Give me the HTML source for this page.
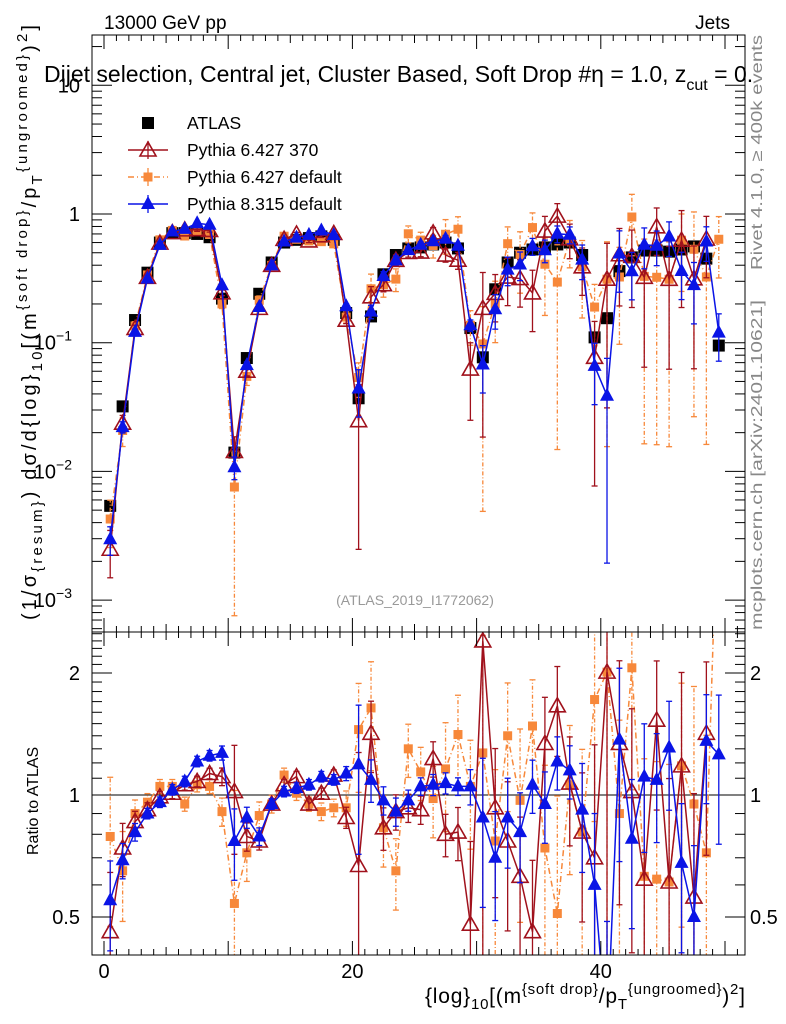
<!DOCTYPE html>
<html><head><meta charset="utf-8">
<style>
html,body{margin:0;padding:0;background:#fff;overflow:hidden;width:786px;height:1024px;}
svg{display:block;font-family:"Liberation Sans","DejaVu Sans",sans-serif;}
</style></head>
<body>
<svg id="chart" width="786" height="1024" viewBox="0 0 786 1024" xmlns="http://www.w3.org/2000/svg">
<defs>
<clipPath id="cm"><rect x="92" y="35" width="653" height="597"/></clipPath>
<clipPath id="cr"><rect x="92" y="632" width="653" height="323"/></clipPath>
</defs>
<rect x="0" y="0" width="786" height="1024" fill="#fff"/>
<g id="marks-main" clip-path="url(#cm)"></g>
<g id="marks-ratio" clip-path="url(#cr)"></g>
<g id="axes"></g>
<text x="104" y="29" font-size="19">13000 GeV pp</text>
<text x="730" y="29" font-size="19" text-anchor="end">Jets</text>
<text x="44" y="82" font-size="23">Dijet selection, Central jet, Cluster Based, Soft Drop #η = 1.0, z<tspan font-size="16" dy="8">cut</tspan><tspan dy="-8"> = 0.</tspan></text>
<text transform="translate(762,270) rotate(-90)" font-size="16" fill="#888" textLength="235" lengthAdjust="spacingAndGlyphs">Rivet 4.1.0, ≥ 400k events</text>
<text transform="translate(762,630) rotate(-90)" font-size="16" fill="#888" textLength="330" lengthAdjust="spacingAndGlyphs">mcplots.cern.ch [arXiv:2401.10621]</text>
<text x="415" y="605" font-size="14" fill="#999" text-anchor="middle">(ATLAS_2019_I1772062)</text>
<text transform="translate(36,620) rotate(-90)" font-size="20" textLength="595" lengthAdjust="spacing">(1/σ<tspan font-size="15" dy="6">{resum}</tspan><tspan dy="-6">) dσ/d{log}</tspan><tspan font-size="15" dy="6">10</tspan><tspan dy="-6">[(m</tspan><tspan font-size="15" dy="-9">{soft drop}</tspan><tspan dy="9">/p</tspan><tspan font-size="15" dy="6">T</tspan><tspan font-size="15" dy="-15">{ungroomed}</tspan><tspan dy="9">)</tspan><tspan font-size="15" dy="-9">2</tspan><tspan dy="9">]</tspan></text>
<text transform="translate(38,855) rotate(-90)" font-size="16">Ratio to ATLAS</text>
<text x="745" y="1003" font-size="21" text-anchor="end" textLength="320" lengthAdjust="spacing">{log}<tspan font-size="15" dy="6">10</tspan><tspan dy="-6">[(m</tspan><tspan font-size="15" dy="-9">{soft drop}</tspan><tspan dy="9">/p</tspan><tspan font-size="15" dy="6">T</tspan><tspan font-size="15" dy="-15">{ungroomed}</tspan><tspan dy="9">)</tspan><tspan font-size="15" dy="-9">2</tspan><tspan dy="9">]</tspan></text>
<g id="legend"></g>
</svg>
<script>
const binCenters = [0.5,1.5,2.5,3.5,4.5,5.5,6.5,7.5,8.5,9.5,10.5,11.5,12.5,13.5,14.5,15.5,16.5,17.5,18.5,19.5,20.5,21.5,22.5,23.5,24.5,25.5,26.5,27.5,28.5,29.5,30.5,31.5,32.5,33.5,34.5,35.5,36.5,37.5,38.5,39.5,40.5,41.5,42.5,43.5,44.5,45.5,46.5,47.5,48.5,49.5];
const atlasValues = [0.0054,0.032,0.15,0.35,0.6,0.71,0.71,0.70,0.66,0.22,0.014,0.076,0.24,0.42,0.6,0.63,0.65,0.67,0.63,0.17,0.037,0.16,0.34,0.48,0.54,0.55,0.58,0.6,0.54,0.13,0.077,0.26,0.42,0.5,0.53,0.55,0.58,0.6,0.48,0.11,0.155,0.36,0.46,0.52,0.52,0.51,0.53,0.56,0.45,0.095];
const ratioP6_370 = [0.46,0.74,0.86,0.92,0.99,1.01,1.06,1.08,1.13,1.11,1.02,0.79,0.77,0.95,1.06,1.11,0.95,1.01,1.12,0.88,0.67,1.42,0.83,0.91,0.93,0.92,1.23,0.80,0.81,0.48,2.4,0.93,0.77,0.63,0.46,1.34,1.66,1.07,0.81,0.70,2.01,1.34,1.02,0.62,1.53,0.61,1.18,0.56,1.42,null];
const ratioP6_def = [0.79,0.65,0.90,0.96,1.05,1.05,0.95,1.06,1.05,0.91,0.54,0.72,0.89,0.95,1.12,1.01,0.95,0.91,0.93,0.93,1.45,1.64,0.83,0.65,1.30,1.14,0.98,1.16,1.41,1.05,1.27,0.77,1.40,0.97,1.48,0.74,0.51,1.06,0.81,1.72,2.01,0.90,2.06,0.63,0.62,0.61,1.18,0.95,0.72,6.7];
const ratioP8 = [0.55,0.69,0.81,0.90,0.96,1.03,1.08,1.21,1.25,1.27,0.77,0.88,0.79,0.95,1.02,1.04,1.06,1.11,1.09,1.13,1.19,1.09,0.97,0.91,0.97,1.05,1.06,1.07,1.05,1.05,0.88,0.70,0.88,0.81,1.06,0.95,1.21,1.15,0.92,0.60,0.25,1.37,0.78,1.11,1.09,1.31,0.68,0.50,1.36,1.26];
const errP6_370 = [0.4,0.15,0.06,0.04,0.03,0.03,0.03,0.03,0.03,0.05,0.3,0.08,0.05,0.03,0.03,0.03,0.03,0.03,0.03,0.06,0.9,0.2,0.12,0.1,0.08,0.08,0.1,0.12,0.15,0.6,0.9,0.4,0.4,0.4,0.5,0.3,0.25,0.3,0.4,0.9,0.9,0.6,0.6,0.8,0.4,0.8,0.7,0.8,0.5,0];
const errP6_def = [0.4,0.25,0.08,0.05,0.04,0.04,0.04,0.04,0.04,0.08,0.9,0.15,0.08,0.05,0.04,0.04,0.04,0.05,0.05,0.1,0.3,0.3,0.2,0.2,0.15,0.15,0.2,0.3,0.25,0.3,0.95,0.5,0.35,0.5,0.3,0.6,0.95,0.4,0.6,0.5,0.95,0.7,0.5,0.95,0.95,0.95,0.6,0.95,0.95,0.5];
const errP8 = [0.25,0.1,0.05,0.03,0.03,0.03,0.03,0.03,0.03,0.04,0.2,0.06,0.05,0.03,0.03,0.03,0.03,0.03,0.03,0.04,0.4,0.12,0.08,0.08,0.06,0.05,0.06,0.06,0.05,0.1,0.4,0.3,0.25,0.25,0.15,0.2,0.15,0.15,0.3,0.5,0.95,0.5,0.4,0.35,0.3,0.3,0.4,0.5,0.3,0.4];
const xTickLabels = ["0","20","40"];
const xTickValues = [0,20,40];

const NS="http://www.w3.org/2000/svg";
const L=92,R=745,MT=35,MB=632,RB=955;
const X=v=>104+12.42*v;
const YM=v=>214-128.7*Math.log10(v);
const YR=r=>795-122*Math.log2(r);
function mk(tag,attrs,parent){const e=document.createElementNS(NS,tag);for(const k in attrs)e.setAttribute(k,attrs[k]);parent.appendChild(e);return e;}
const gm=document.getElementById('marks-main'),gr=document.getElementById('marks-ratio'),ga=document.getElementById('axes'),gl=document.getElementById('legend');

function marker(type,x,y,color,parent,name){
  let e;
  if(type==='sqBig'){e=mk('rect',{x:x-6,y:y-6,width:12,height:12,fill:'#000'},parent);}
  else if(type==='sqSmall'){e=mk('rect',{x:x-4.5,y:y-4.5,width:9,height:9,fill:color},parent);}
  else if(type==='triOpen'){e=mk('polygon',{points:`${x},${y-8} ${x-8},${y+6} ${x+8},${y+6}`,fill:'none',stroke:color,'stroke-width':1.6},parent);}
  else {e=mk('polygon',{points:`${x},${y-8} ${x-7},${y+5} ${x+7},${y+5}`,fill:color},parent);}
  
  
  return e;
}
function errbar(x,y1,y2,color,dash,parent){
  const g=mk('g',{stroke:color,'stroke-width':1.3},parent);
  
  
  mk('line',{x1:x,x2:x,y1:y1,y2:y2,'stroke-dasharray':dash||''},g);
  mk('line',{x1:x-3,x2:x+3,y1:y1,y2:y1},g);
  mk('line',{x1:x-3,x2:x+3,y1:y2,y2:y2},g);
}
function series(ratios,errs,color,dash,mtype,name){
  const pm=[],pr=[];
  const gM=mk('g',{},gm);
  const gR=mk('g',{},gr);
  ratios.forEach((r,i)=>{
    if(r==null)return;
    const v=atlasValues[i]*r,x=X(binCenters[i]),e=errs[i];
    const lo=Math.max(1e-5,1-e),hi=1+e;
    errbar(x,YM(v*lo),YM(v*hi),color,dash?'4,2,1,2':'',gM);
    errbar(x,YR(r*lo),YR(r*hi),color,dash?'4,2,1,2':'',gR);
    pm.push(x+','+YM(v));pr.push(x+','+YR(r));
  });
  const l1=mk('polyline',{points:pm.join(' '),fill:'none',stroke:color,'stroke-width':1.5,'stroke-dasharray':dash||''},gM);
  
  const l2=mk('polyline',{points:pr.join(' '),fill:'none',stroke:color,'stroke-width':1.5,'stroke-dasharray':dash||''},gR);
  
  ratios.forEach((r,i)=>{
    if(r==null)return;
    const v=atlasValues[i]*r,x=X(binCenters[i]);
    marker(mtype,x,YM(v),color,gM,name+'-point');
    marker(mtype,x,YR(r),color,gR,name+'-ratio-point');
  });
}
const ref=mk('line',{x1:L,x2:R,y1:YR(1),y2:YR(1),stroke:'#000','stroke-width':1},gr);

atlasValues.forEach((v,i)=>{marker('sqBig',X(binCenters[i]),YM(v),'#000',gm,'atlas-point');});
series(ratioP6_def,errP6_def,'#f7883a','6,3,1,3','sqSmall','pythia6-default');
series(ratioP6_370,errP6_370,'#a0111c','','triOpen','pythia6-370');
series(ratioP8,errP8,'#0a14e6','','triFill','pythia8-default');

[[MT,MB],[MB,RB]].forEach(([t,b],k)=>{
  const f=mk('rect',{x:L,y:t,width:R-L,height:b-t,fill:'none',stroke:'#000','stroke-width':1},ga);
  
  for(let v=0;v<=51;v++){
    const x=X(v),len=(v%10===0)?14:(v%5===0?8:6);
    if(x<L||x>R)continue;
    mk('line',{x1:x,x2:x,y1:b,y2:b-len,stroke:'#000'},ga);
    mk('line',{x1:x,x2:x,y1:t,y2:t+len,stroke:'#000'},ga);
  }
});
xTickValues.forEach((v,i)=>{
  const t=mk('text',{x:X(v),y:978,'font-size':20,'text-anchor':'middle'},ga);t.textContent=xTickLabels[i];
  
});
for(let d=-4;d<=1;d++){
  for(let m=1;m<10;m++){
    const v=m*Math.pow(10,d),y=YM(v);
    if(y<MT||y>MB)continue;
    const len=m===1?20:10;
    mk('line',{x1:L,x2:L+len,y1:y,y2:y,stroke:'#000'},ga);
    mk('line',{x1:R,x2:R-len,y1:y,y2:y,stroke:'#000'},ga);
  }
}
const mainLabels=[[10,'10',''],[1,'1',''],[0.1,'10','−1'],[0.01,'10','−2'],[0.001,'10','−3']];
mainLabels.forEach(([v,b,s])=>{
  const t=mk('text',{x:s?72:80,y:YM(v)+7,'font-size':20,'text-anchor':'end'},ga);
  
  t.textContent=b;
  if(s){const ts=mk('tspan',{'font-size':14,dy:-9},t);ts.textContent=s;}
});
[0.4,0.5,0.6,0.7,0.8,0.9,1,1.1,1.2,1.3,1.4,1.5,1.6,1.7,1.8,1.9,2,2.1,2.2,2.3,2.4,2.5].forEach(r=>{
  const y=YR(r);if(y<MB||y>RB)return;
  const len=(r===0.5||r===1||r===2)?20:10;
  mk('line',{x1:L,x2:L+len,y1:y,y2:y,stroke:'#000'},ga);
  mk('line',{x1:R,x2:R-len,y1:y,y2:y,stroke:'#000'},ga);
});
[[2,'2'],[1,'1'],[0.5,'0.5']].forEach(([r,s])=>{
  const t=mk('text',{x:80,y:YR(r)+7,'font-size':20,'text-anchor':'end'},ga);t.textContent=s;
  
  const t2=mk('text',{x:750,y:YR(r)+7,'font-size':20},ga);t2.textContent=s;
  
});
const leg=[['ATLAS','sqBig','#000',''],['Pythia 6.427 370','triOpen','#a0111c',''],['Pythia 6.427 default','sqSmall','#f7883a','6,3,1,3'],['Pythia 8.315 default','triFill','#0a14e6','']];
leg.forEach(([lab,mt,c,d],i)=>{
  const y=123+27*i;
  const g=mk('g',{},gl);
  if(i>0){mk('line',{x1:128,x2:168,y1:y,y2:y,stroke:c,'stroke-width':1.5,'stroke-dasharray':d},g);
          mk('line',{x1:148,x2:148,y1:y-9,y2:y+9,stroke:c,'stroke-width':1.3,'stroke-dasharray':d},g);}
  marker(mt,148,y,c,g,'legend-marker');
  const t=mk('text',{x:187,y:y+6,'font-size':17.5},g);t.textContent=lab;
});
</script>
</body></html>
